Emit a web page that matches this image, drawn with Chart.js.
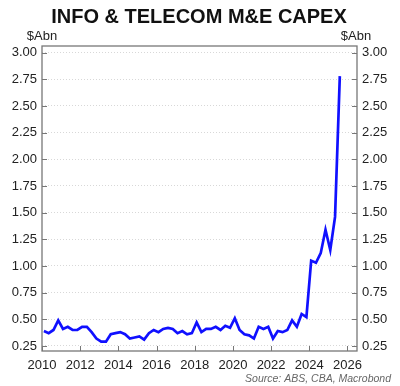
<!DOCTYPE html>
<html>
<head>
<meta charset="utf-8">
<script src="https://cdn.jsdelivr.net/npm/chart.js@4.4.0/dist/chart.umd.min.js"></script>
<style>
  html, body { margin: 0; padding: 0; background: #fff; }
</style>
</head>
<body>
<canvas id="chart" width="400" height="386"></canvas>
<script>
// quarterly series, 2010Q1 - 2025Q3
const quarters = [
  '2010Q1','2010Q2','2010Q3','2010Q4','2011Q1','2011Q2','2011Q3','2011Q4',
  '2012Q1','2012Q2','2012Q3','2012Q4','2013Q1','2013Q2','2013Q3','2013Q4',
  '2014Q1','2014Q2','2014Q3','2014Q4','2015Q1','2015Q2','2015Q3','2015Q4',
  '2016Q1','2016Q2','2016Q3','2016Q4','2017Q1','2017Q2','2017Q3','2017Q4',
  '2018Q1','2018Q2','2018Q3','2018Q4','2019Q1','2019Q2','2019Q3','2019Q4',
  '2020Q1','2020Q2','2020Q3','2020Q4','2021Q1','2021Q2','2021Q3','2021Q4',
  '2022Q1','2022Q2','2022Q3','2022Q4','2023Q1','2023Q2','2023Q3','2023Q4',
  '2024Q1','2024Q2','2024Q3','2024Q4','2025Q1','2025Q2','2025Q3'
];
const capex = [
  0.39, 0.37, 0.40, 0.49, 0.41, 0.43, 0.40, 0.40,
  0.43, 0.43, 0.38, 0.32, 0.29, 0.29, 0.36, 0.37,
  0.38, 0.36, 0.32, 0.33, 0.34, 0.31, 0.37, 0.40,
  0.38, 0.41, 0.42, 0.41, 0.37, 0.39, 0.36, 0.37,
  0.47, 0.38, 0.41, 0.41, 0.43, 0.40, 0.44, 0.42,
  0.51, 0.40, 0.36, 0.35, 0.32, 0.43, 0.41, 0.43,
  0.32, 0.39, 0.38, 0.40, 0.49, 0.43, 0.55, 0.52,
  1.05, 1.03, 1.12, 1.34, 1.15, 1.46, 2.78
];
const yTicks = [0.25, 0.5, 0.75, 1.0, 1.25, 1.5, 1.75, 2.0, 2.25, 2.5, 2.75, 3.0];
const xTicks = [2010, 2012, 2014, 2016, 2018, 2020, 2022, 2024, 2026];

const toYear = q => parseInt(q.slice(0, 4)) + (parseInt(q.slice(5)) - 1) * 0.25 + 0.1;
const points = quarters.map((q, i) => ({ x: toYear(q), y: capex[i] }));

const FONT = 'Liberation Sans, Arial, sans-serif';

const frame = {
  id: 'frame',
  afterDraw(chart) {
    const { ctx, chartArea: a } = chart;
    const ys = chart.scales.y, xs = chart.scales.x;
    ctx.save();
    ctx.strokeStyle = '#777';
    ctx.lineWidth = 1.3;
    ctx.strokeRect(a.left, a.top, a.right - a.left, a.bottom - a.top);
    ctx.lineWidth = 1;
    ctx.beginPath();
    yTicks.forEach(v => {
      const p = Math.round(ys.getPixelForValue(v)) + 0.5;
      ctx.moveTo(a.left, p); ctx.lineTo(a.left + 5, p);
      ctx.moveTo(a.right - 5, p); ctx.lineTo(a.right, p);
    });
    xTicks.forEach(v => {
      const p = Math.round(xs.getPixelForValue(v)) + 0.5;
      ctx.moveTo(p, a.bottom); ctx.lineTo(p, a.bottom - 5);
    });
    ctx.stroke();

    ctx.fillStyle = '#111';
    ctx.textAlign = 'center';
    ctx.font = 'bold 20px ' + FONT;
    ctx.fillText('INFO & TELECOM M&E CAPEX', 199, 23);
    ctx.font = '13px ' + FONT;
    ctx.fillStyle = '#222';
    ctx.fillText('$Abn', a.left, 40);
    ctx.fillText('$Abn', a.right - 1, 40);
    ctx.textAlign = 'right';
    ctx.font = 'italic 10.5px ' + FONT;
    ctx.fillStyle = '#666';
    ctx.fillText('Source: ABS, CBA, Macrobond', 391, 382);
    ctx.restore();
  }
};

const yAxis = (pos, width) => ({
  type: 'linear',
  position: pos,
  min: 0.203,
  max: 3.062,
  afterBuildTicks: s => { s.ticks = yTicks.map(v => ({ value: v })); },
  afterFit: s => { s.width = width; },
  ticks: {
    padding: 5,
    color: '#222',
    font: { family: FONT, size: 13 },
    callback: v => v.toFixed(2)
  },
  grid: {
    display: pos === 'left',
    color: '#d8d8d8',
    drawTicks: false
  },
  border: { display: false, dash: [1, 2] }
});

new Chart(document.getElementById('chart'), {
  type: 'line',
  data: {
    datasets: [{
      data: points,
      borderColor: '#1010ff',
      borderWidth: 2.7,
      pointRadius: 0,
      tension: 0,
      fill: false
    }]
  },
  options: {
    responsive: false,
    devicePixelRatio: 1,
    animation: false,
    layout: { padding: { top: 46, left: 0, right: 0, bottom: 0 } },
    plugins: { legend: { display: false }, title: { display: false }, tooltip: { enabled: false } },
    scales: {
      x: {
        type: 'linear',
        min: 2010,
        max: 2026.5,
        afterBuildTicks: s => { s.ticks = xTicks.map(v => ({ value: v })); },
        afterFit: s => { s.height = 35; },
        ticks: {
          padding: 7,
          color: '#222',
          font: { family: FONT, size: 13 },
          callback: v => String(v)
        },
        grid: { display: false, drawTicks: false },
        border: { display: false }
      },
      y: yAxis('left', 42),
      y2: yAxis('right', 43)
    }
  },
  plugins: [frame]
});
</script>
</body>
</html>
